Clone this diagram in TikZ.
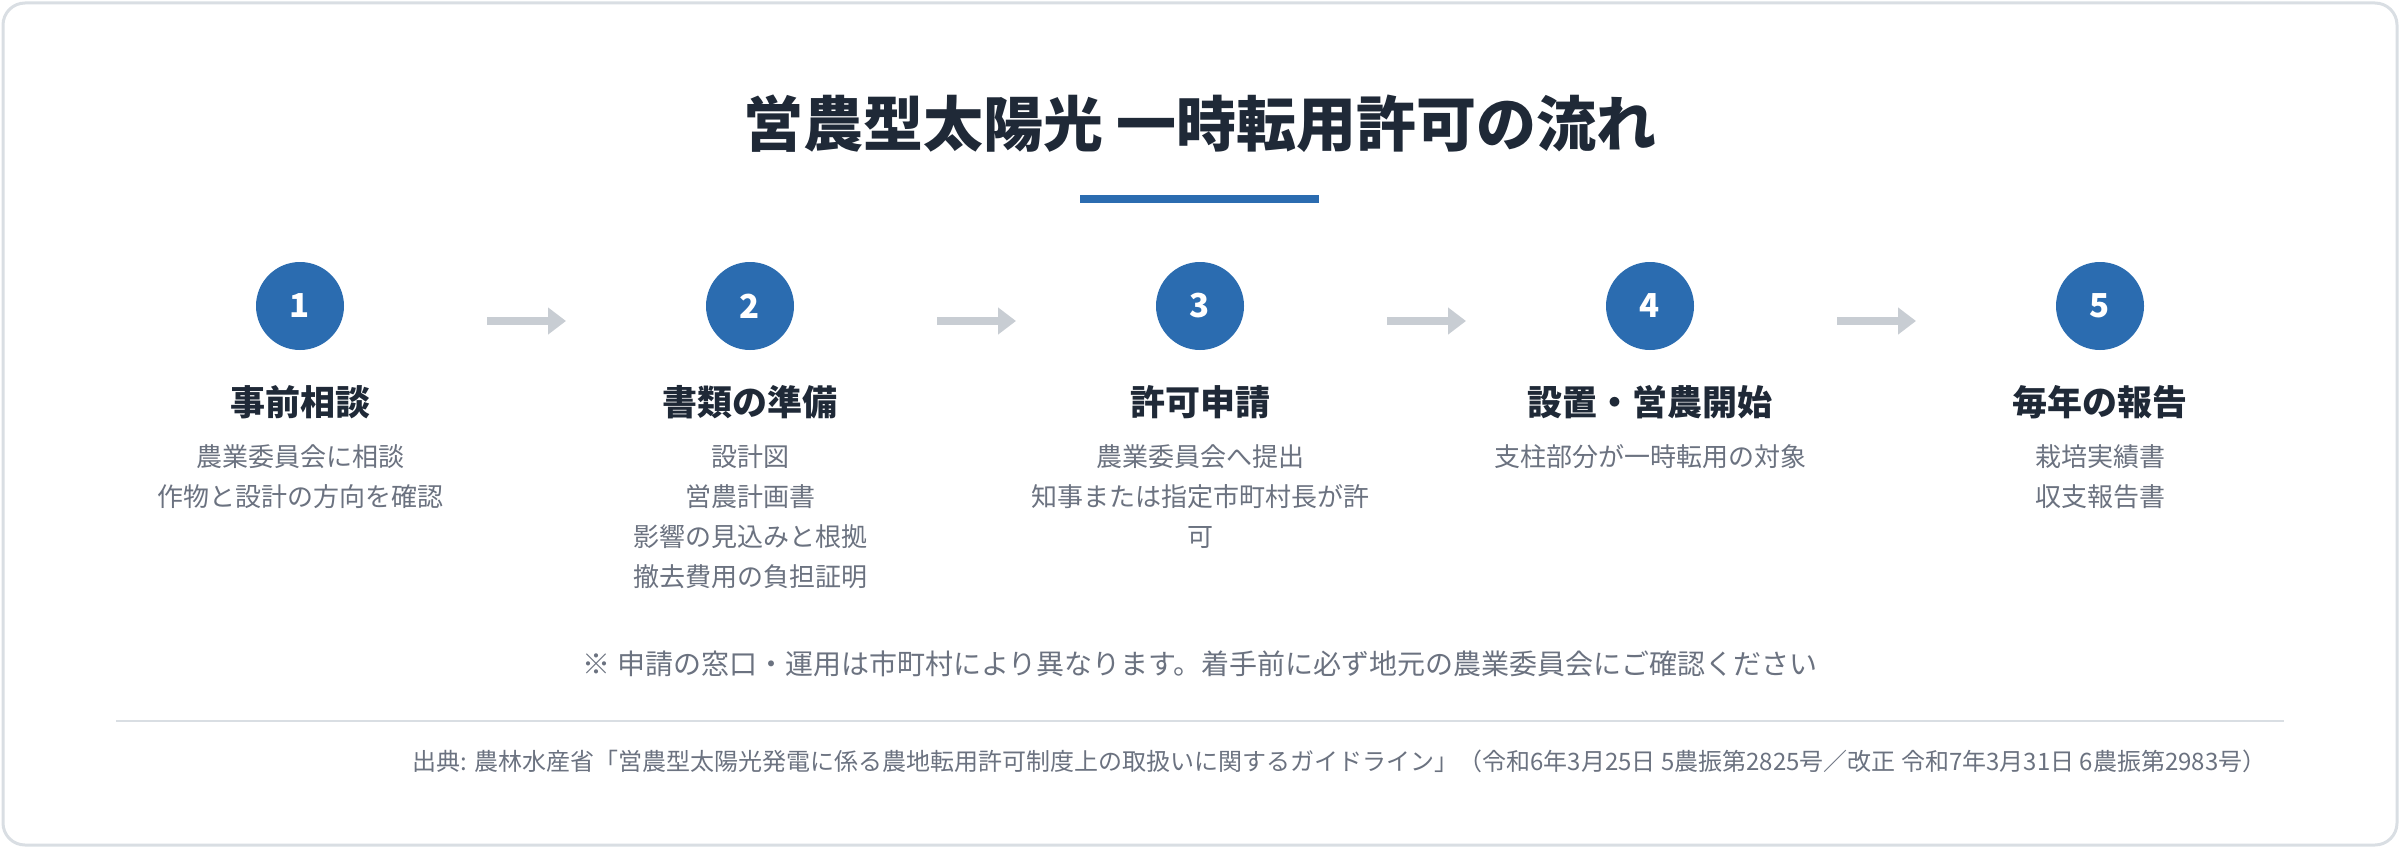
\documentclass[tikz,border=0pt]{standalone}
\usepackage{fontspec}
\setmainfont{Noto Sans CJK JP}
\usetikzlibrary{arrows.meta,calc}
\definecolor{blu}{HTML}{2B6CB0}
\definecolor{dark}{HTML}{1F2937}
\definecolor{txt}{HTML}{6B7280}
\definecolor{arr}{HTML}{C8CDD3}
\definecolor{brd}{HTML}{D9DEE3}
\begin{document}
\begin{tikzpicture}[x=1pt,y=-1pt,
  num/.style={circle,fill=blu,minimum size=88pt,inner sep=0pt,text=white,font=\fontsize{33}{33}\selectfont\bfseries},
  stitle/.style={font=\fontsize{35}{35}\selectfont\bfseries,text=dark},
  desc/.style={font=\fontsize{26}{40}\selectfont,text=txt,align=center,anchor=north},
  flow/.style={arr,line width=8pt,-{Triangle[length=18pt,width=26pt]}}]
\useasboundingbox (0,0) rectangle (2400,848);
\draw[brd,line width=3pt,fill=white,rounded corners=22pt] (3,3) rectangle (2397,845);
\node[font=\fontsize{60}{60}\selectfont\bfseries,text=dark] (title) at (1200,124) {営農型太陽光 一時転用許可の流れ};
\draw[blu,line width=8pt] (1080,199) -- (1319,199);
\foreach \i/\x/\t in {1/300/事前相談,2/750/書類の準備,3/1200/許可申請,4/1650/設置・営農開始,5/2100/毎年の報告}{
  \node[num] (n\i) at (\x,306) {\i};
  \node[stitle] (t\i) at (\x,402) {\t};
  \coordinate (as\i) at (\x+187,321);
  \coordinate (ae\i) at (\x+266,321);
}
\node[desc] (d1) at (300,441) {農業委員会に相談\\作物と設計の方向を確認};
\node[desc] (d2) at (750,441) {設計図\\営農計画書\\影響の見込みと根拠\\撤去費用の負担証明};
\node[desc] (d3) at (1200,441) {農業委員会へ提出\\知事または指定市町村長が許\\可};
\node[desc] (d4) at (1650,441) {支柱部分が一時転用の対象};
\node[desc] (d5) at (2100,441) {栽培実績書\\収支報告書};
\foreach \a in {1,2,3,4}{
  \draw[flow] (as\a) -- (ae\a);
}
\node[font=\fontsize{28}{28}\selectfont,text=txt] (note) at (1200,664) {※ 申請の窓口・運用は市町村により異なります。着手前に必ず地元の農業委員会にご確認ください};
\draw[brd,line width=2pt] (116,721) -- (2284,721);
\node[font=\fontsize{24}{24}\selectfont,text=txt,anchor=east] (src) at (2270,761) {出典: 農林水産省「営農型太陽光発電に係る農地転用許可制度上の取扱いに関するガイドライン」（令和6年3月25日 5農振第2825号／改正 令和7年3月31日 6農振第2983号）};
\end{tikzpicture}
\end{document}
